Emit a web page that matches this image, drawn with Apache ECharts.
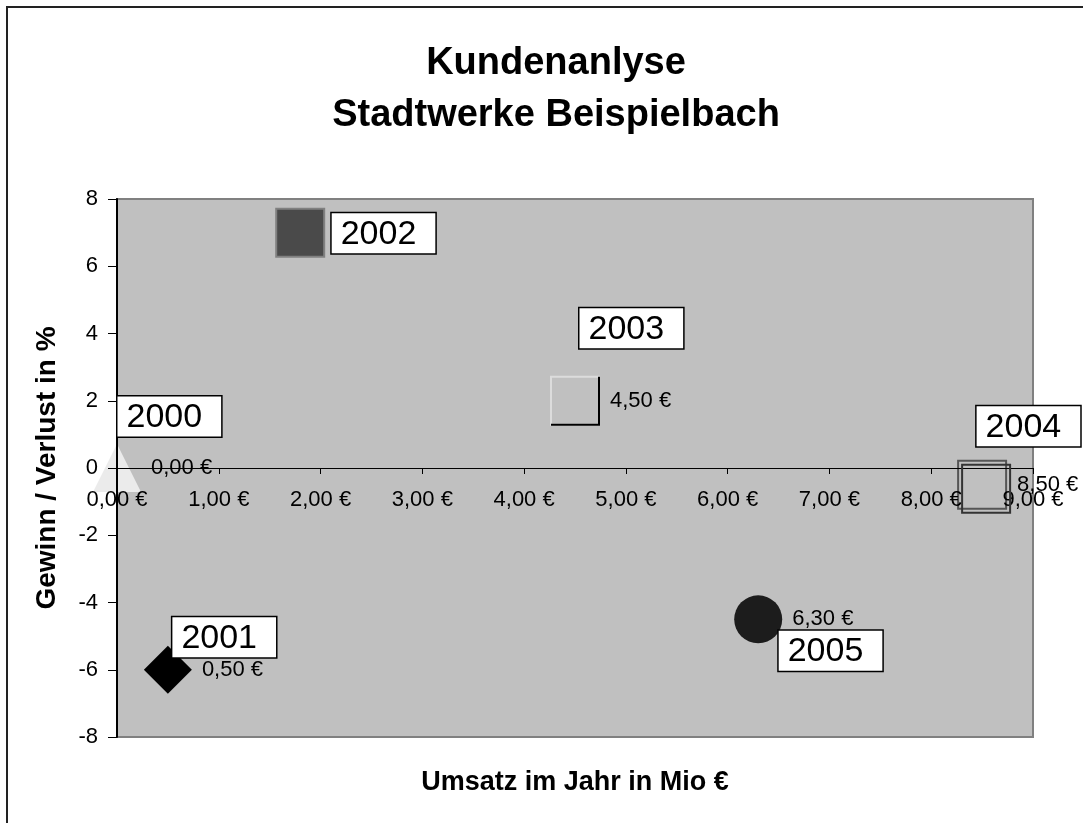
<!DOCTYPE html>
<html>
<head>
<meta charset="utf-8">
<script src="https://cdn.jsdelivr.net/npm/echarts@6/dist/echarts.min.js"></script>
<style>
  html, body { margin: 0; padding: 0; background: #fff; }
  #main { width: 1083px; height: 823px; }
</style>
</head>
<body>
<div id="main"></div>
<script>
// Daten
var years = ['2000', '2001', '2002', '2003', '2004', '2005'];
var umsatz = [0, 0.5, 1.8, 4.5, 8.5, 6.3];      // Mio €
var gewinn = [0, -6, 7, 2, -0.5, -4.5];         // %
var yTicks = [-8, -6, -4, -2, 0, 2, 4, 6, 8];

// Aussehen je Jahr (nicht Daten)
var symbole = ['triangle', 'diamond', 'rect', 'rect', 'rect', 'circle'];
var farben = ['#ebebeb', '#000000', '#4a4a4a', 'rgba(0,0,0,0)', 'rgba(0,0,0,0)', '#1c1c1c'];
var rahmen = [null, null, '#808080', '#dcdcdc', '#555555', null];
var jahrBoxPos = [[1, -71], [5, -52], [32, -19], [5, -92], [-5, -78], [21, 12]];

var FONT = 'Liberation Sans, Arial, sans-serif';

function euro(v) {
  return v.toFixed(2).replace('.', ',') + ' €';
}

var punkte = umsatz.map(function (x, i) {
  return {
    value: [x, gewinn[i]],
    symbol: symbole[i],
    itemStyle: {
      color: farben[i],
      borderColor: rahmen[i] || farben[i],
      borderWidth: rahmen[i] ? 2 : 0,
      opacity: 1
    },
    label: { show: i !== 2 }
  };
});

var jahre = umsatz.map(function (x, i) {
  return {
    value: [x, gewinn[i]],
    label: { position: jahrBoxPos[i], formatter: years[i] }
  };
});

var myChart = echarts.init(document.getElementById('main'));
var option = {
  backgroundColor: '#ffffff',
  animation: false,
  title: {
    text: 'Kundenanlyse\nStadtwerke Beispielbach',
    left: 551,
    top: 33,
    textAlign: 'center',
    textStyle: { fontFamily: FONT, fontSize: 38, fontWeight: 'bold', color: '#000', lineHeight: 52 }
  },
  graphic: [{
    type: 'rect',
    shape: { x: 7, y: 7, width: 1110, height: 830 },
    style: { fill: 'none', stroke: '#222', lineWidth: 2 },
    silent: true
  }],
  grid: {
    left: 117, right: 50, top: 199, bottom: 86,
    outerBoundsMode: 'none',
    containLabel: false,
    show: true,
    backgroundColor: '#c0c0c0',
    borderColor: '#808080',
    borderWidth: 2
  },
  xAxis: {
    type: 'value',
    min: 0, max: 9, interval: 1,
    position: 'bottom',
    offset: -269,   // Achse liegt auf der Nulllinie
    z: 4,
    axisLine: { onZero: false, lineStyle: { color: '#000', width: 1 } },
    axisTick: { show: true, length: 6, lineStyle: { color: '#000' } },
    axisLabel: { fontFamily: FONT, fontSize: 22, color: '#000', margin: 21, formatter: euro },
    splitLine: { show: false },
    name: 'Umsatz im Jahr in Mio €',
    nameLocation: 'middle',
    nameGap: 301,
    nameTextStyle: { fontFamily: FONT, fontSize: 27, fontWeight: 'bold', color: '#000' }
  },
  yAxis: {
    type: 'value',
    min: yTicks[0], max: yTicks[yTicks.length - 1], interval: 2,
    z: 4,
    axisLine: { show: true, onZero: false, lineStyle: { color: '#000', width: 2 } },
    axisTick: { show: true, length: 9, lineStyle: { color: '#000' } },
    axisLabel: { fontFamily: FONT, fontSize: 22, color: '#000', margin: 19 },
    splitLine: { show: false },
    name: 'Gewinn / Verlust in %',
    nameLocation: 'middle',
    nameGap: 56,
    nameRotate: 90,
    nameTextStyle: { fontFamily: FONT, fontSize: 28, fontWeight: 'bold', color: '#000' }
  },
  series: [{
    name: 'Kunden',
    type: 'scatter',
    symbolSize: 48,
    data: punkte,
    label: {
      position: 'right',
      distance: 10,
      fontFamily: FONT,
      fontSize: 22,
      color: '#000',
      formatter: function (p) { return euro(p.value[0]); }
    },
    z: 3
  }, {
    // 3D-Kante 2003 / zweiter Rahmen 2004
    name: 'Kante',
    type: 'scatter',
    data: [
      { value: [umsatz[3], gewinn[3]], symbol: 'path://M10,0 L10,10 L0,10', symbolSize: 48,
        itemStyle: { color: 'none', borderColor: '#000', borderWidth: 2, opacity: 1 } },
      { value: [umsatz[4], gewinn[4]], symbol: 'rect', symbolSize: 48, symbolOffset: [4, 4],
        itemStyle: { color: 'rgba(0,0,0,0)', borderColor: '#333', borderWidth: 2, opacity: 1 } }
    ],
    silent: true,
    z: 4
  }, {
    name: 'Jahr',
    type: 'scatter',
    symbolSize: 1,
    itemStyle: { color: 'rgba(0,0,0,0)', opacity: 1 },
    data: jahre,
    label: {
      show: true,
      align: 'left',
      verticalAlign: 'top',
      fontFamily: FONT,
      fontSize: 34,
      lineHeight: 38,
      color: '#000',
      backgroundColor: '#fff',
      borderColor: '#000',
      borderWidth: 1.5,
      padding: [2, 19, 0, 9]
    },
    silent: true,
    z: 5
  }]
};
myChart.setOption(option);
</script>
</body>
</html>
